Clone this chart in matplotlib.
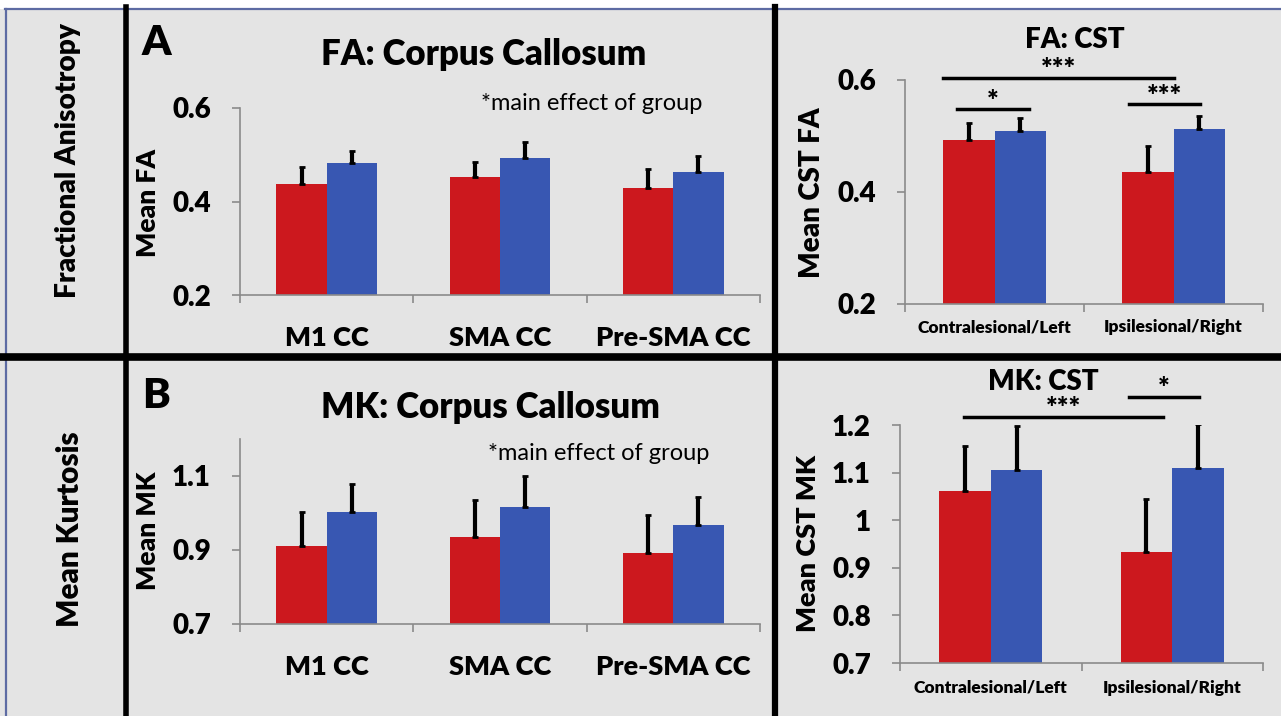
import matplotlib
matplotlib.use("Agg")
import matplotlib.pyplot as plt
import numpy as np

plt.rcParams['font.family'] = ['Lato', 'DejaVu Sans']

W, H = 1281, 716
RED = '#cc181e'
BLUE = '#3857b2'
BG = '#e4e4e4'
WT = 'heavy'

# corpus callosum regions
cc_labels = ["M1 CC", "SMA CC", "Pre-SMA CC"]
fa_cc_red = [0.437, 0.452, 0.429]
fa_cc_red_err = [0.037, 0.032, 0.040]
fa_cc_blue = [0.482, 0.493, 0.463]
fa_cc_blue_err = [0.026, 0.034, 0.034]

mk_cc_red = [0.911, 0.935, 0.892]
mk_cc_red_err = [0.092, 0.100, 0.103]
mk_cc_blue = [1.003, 1.016, 0.968]
mk_cc_blue_err = [0.075, 0.084, 0.075]

# corticospinal tract
cst_labels = ["Contralesional/Left", "Ipsilesional/Right"]
fa_cst_red = [0.493, 0.436]
fa_cst_red_err = [0.030, 0.046]
fa_cst_blue = [0.509, 0.512]
fa_cst_blue_err = [0.023, 0.023]

mk_cst_red = [1.061, 0.933]
mk_cst_red_err = [0.095, 0.112]
mk_cst_blue = [1.105, 1.110]
mk_cst_blue_err = [0.093, 0.092]

# significance brackets: (x start, x end, y, stars)
fa_cst_sig = [(0.21, 1.50, 0.604, "***"), (0.29, 0.69, 0.548, "*"), (1.25, 1.65, 0.557, "***")]
mk_cst_sig = [(0.35, 1.45, 1.217, "***"), (1.26, 1.65, 1.259, "*")]


def px_axes(x0, y0, x1, y1):
    return fig.add_axes([x0 / W, 1 - y1 / H, (x1 - x0) / W, (y1 - y0) / H])


def bar_panel(ax, labels, red, red_err, blue, blue_err, ylim, yticks, ytl,
              width, lab_size, lab_pad):
    x = np.arange(len(labels)) + 0.5
    ax.bar(x - width / 2, red, width, color=RED, zorder=2)
    ax.bar(x + width / 2, blue, width, color=BLUE, zorder=2)
    z = np.zeros(len(labels))
    ax.errorbar(x - width / 2, red, yerr=[z, red_err], fmt='none', ecolor='black',
                elinewidth=3, capsize=2.5, capthick=2, zorder=3)
    ax.errorbar(x + width / 2, blue, yerr=[z, blue_err], fmt='none', ecolor='black',
                elinewidth=3, capsize=2.5, capthick=2, zorder=3)
    ax.set_xlim(0, len(labels))
    ax.set_ylim(*ylim)
    ax.set_facecolor('none')
    for s in ['top', 'right']:
        ax.spines[s].set_visible(False)
    for s in ['left', 'bottom']:
        ax.spines[s].set_color('#8a8a8a')
        ax.spines[s].set_linewidth(1.2)
    ax.set_yticks(yticks)
    ax.set_yticklabels(ytl, fontsize=20, fontweight=WT)
    ax.tick_params(axis='y', direction='out', length=6, width=1.2, color='#8a8a8a', pad=15)
    ax.set_xticks(np.arange(len(labels) + 1))
    ax.set_xticklabels([])
    ax.tick_params(axis='x', which='major', direction='out', length=6, width=1.2, color='#8a8a8a')
    ax.set_xticks(x, minor=True)
    ax.set_xticklabels(labels, minor=True, fontsize=lab_size, fontweight=WT)
    ax.tick_params(axis='x', which='minor', length=0, pad=lab_pad)


def sig_lines(ax, sig):
    for x0, x1, y, stars in sig:
        ax.plot([x0, x1], [y, y], color='black', lw=2.5, clip_on=False, zorder=4)
        ax.annotate(stars, xy=((x0 + x1) / 2, y), xytext=(0, -4), textcoords='offset points',
                    ha='center', va='bottom', fontsize=20, fontweight=WT,
                    annotation_clip=False)


fig = plt.figure(figsize=(W / 100, H / 100), dpi=100)
fig.patch.set_facecolor(BG)

# frame pieces
frame = fig.add_axes([0, 0, 1, 1])
frame.set_xlim(0, W)
frame.set_ylim(H, 0)
frame.axis('off')
frame.fill_between([0, W], 0, 8, color='white', zorder=1)
frame.plot([5, W], [8.5, 8.5], color='#5d6ba3', lw=1.6, zorder=2)
frame.plot([5.5, 5.5], [8.5, H], color='#5d6ba3', lw=1.6, zorder=2)
frame.plot([126, 126], [7, H], color='black', lw=4, zorder=3)
frame.plot([774.5, 774.5], [7, H], color='black', lw=4.5, zorder=3)
frame.plot([0, W], [357, 357], color='black', lw=5.5, zorder=3)

# panel A
axA = px_axes(240, 108, 760, 295)
bar_panel(axA, cc_labels, fa_cc_red, fa_cc_red_err, fa_cc_blue, fa_cc_blue_err,
          (0.2, 0.6), [0.2, 0.4, 0.6], ["0.2", "0.4", "0.6"], 0.29, 19.5, 22)

# panel B
axB = px_axes(240, 439, 760, 624)
bar_panel(axB, cc_labels, mk_cc_red, mk_cc_red_err, mk_cc_blue, mk_cc_blue_err,
          (0.7, 1.2), [0.7, 0.9, 1.1], ["0.7", "0.9", "1.1"], 0.29, 19.5, 22)

# panel C
axC = px_axes(905, 80, 1263, 304)
bar_panel(axC, cst_labels, fa_cst_red, fa_cst_red_err, fa_cst_blue, fa_cst_blue_err,
          (0.2, 0.6), [0.2, 0.4, 0.6], ["0.2", "0.4", "0.6"], 0.285, 12.5, 11)
sig_lines(axC, fa_cst_sig)

# panel D
axD = px_axes(900, 425, 1263, 663)
bar_panel(axD, cst_labels, mk_cst_red, mk_cst_red_err, mk_cst_blue, mk_cst_blue_err,
          (0.7, 1.2), [0.7, 0.8, 0.9, 1.0, 1.1, 1.2],
          ["0.7", "0.8", "0.9", "1", "1.1", "1.2"], 0.285, 12.5, 12)
sig_lines(axD, mk_cst_sig)


def ftext(x, y, s, **kw):
    fig.text(x / W, 1 - y / H, s, **kw)


ftext(156, 55, "A", fontsize=30, fontweight=WT, ha='center', va='baseline')
ftext(156, 408, "B", fontsize=30, fontweight=WT, ha='center', va='baseline')
ftext(484, 65, "FA: Corpus Callosum", fontsize=25, fontweight=WT, ha='center', va='baseline')
ftext(490, 418, "MK: Corpus Callosum", fontsize=25, fontweight=WT, ha='center', va='baseline')
ftext(592, 110, "*main effect of group", fontsize=17, ha='center', va='baseline')
ftext(599, 460, "*main effect of group", fontsize=17, ha='center', va='baseline')
ftext(1075, 48, "FA: CST", fontsize=20, fontweight=WT, ha='center', va='baseline')
ftext(1043, 390, "MK: CST", fontsize=20, fontweight=WT, ha='center', va='baseline')

ftext(68, 161, "Fractional Anisotropy", fontsize=20.2, fontweight=WT, rotation=90, ha='center', va='center')
ftext(70, 529, "Mean Kurtosis", fontsize=21.3, fontweight=WT, rotation=90, ha='center', va='center')
ftext(148, 203, "Mean FA", fontsize=19, fontweight=WT, rotation=90, ha='center', va='center')
ftext(148, 531, "Mean MK", fontsize=19, fontweight=WT, rotation=90, ha='center', va='center')
ftext(812, 193, "Mean CST FA", fontsize=20, fontweight=WT, rotation=90, ha='center', va='center')
ftext(808, 544, "Mean CST MK", fontsize=19.5, fontweight=WT, rotation=90, ha='center', va='center')

fig.savefig("out.png", dpi=100, facecolor=fig.get_facecolor())
